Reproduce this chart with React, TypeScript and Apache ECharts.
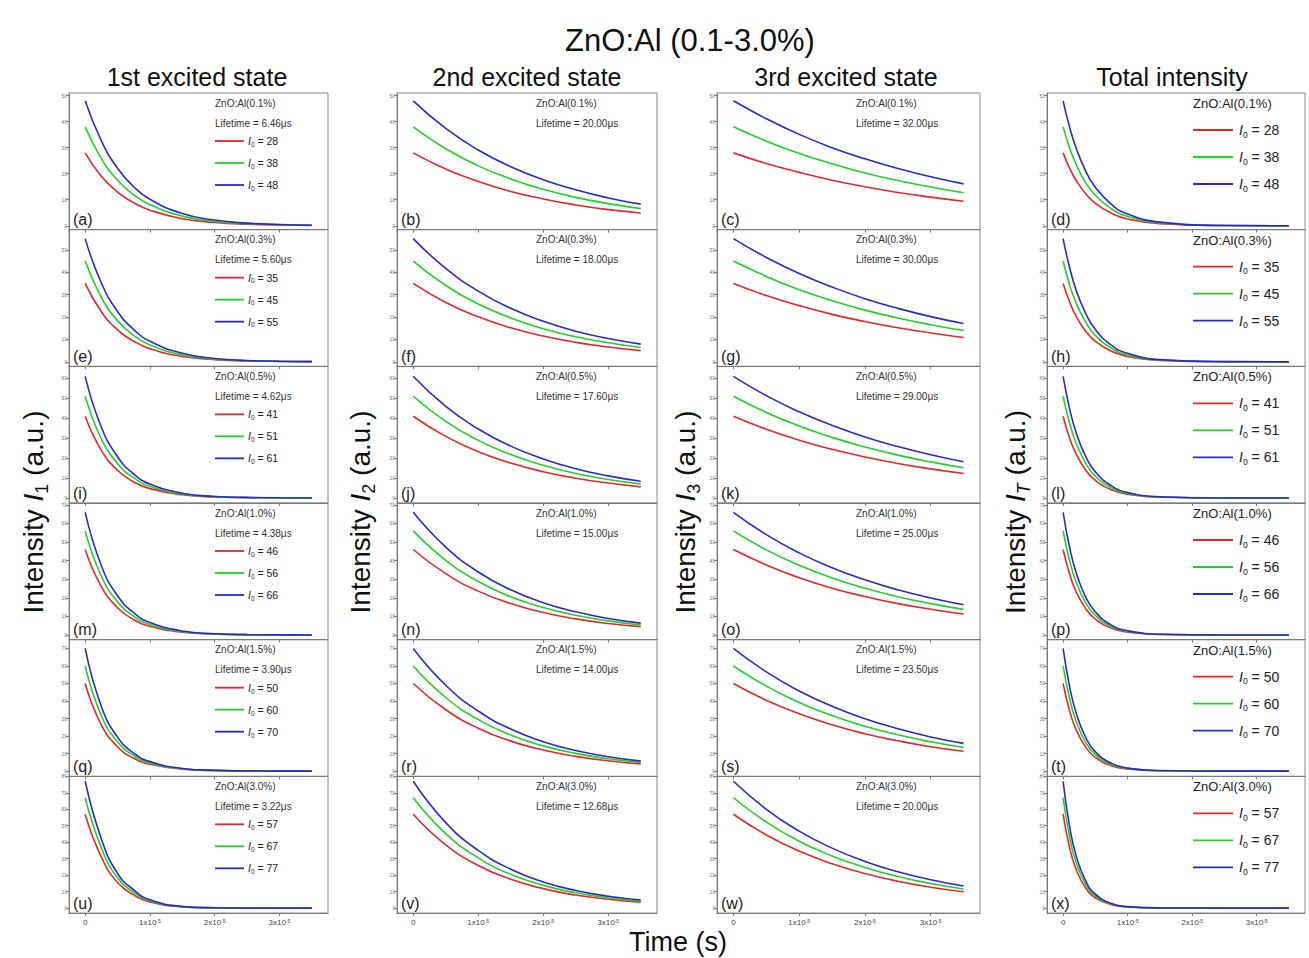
import React, { useEffect, useRef } from "react";
import * as echarts from "echarts";

const CONCENTRATIONS = ["0.1", "0.3", "0.5", "1.0", "1.5", "3.0"];
const I0_VALUES = [
  [28, 38, 48],
  [35, 45, 55],
  [41, 51, 61],
  [46, 56, 66],
  [50, 60, 70],
  [57, 67, 77],
];
const LIFETIME_1 = ["6.46", "5.60", "4.62", "4.38", "3.90", "3.22"];
const LIFETIME_2 = ["20.00", "18.00", "17.60", "15.00", "14.00", "12.68"];
const LIFETIME_3 = ["32.00", "30.00", "29.00", "25.00", "23.50", "20.00"];
const PANEL_LETTERS = "abcdefghijklmnopqrstuvwx".split("");
const COLUMN_TITLES = ["1st excited state", "2nd excited state", "3rd excited state", "Total intensity"];
const Y_SUBSCRIPTS = ["1", "2", "3", "T"];
const Y_MIN = [-1.5, -2, -2.5, -2.5, -3, -3];
const Y_MAX = [51, 59, 66, 71, 75, 80];
const X_TICKS = [0, 1, 2, 3];

// time samples in units of 1e-5 s
const T_MID = [0, 0.25, 0.5, 0.75, 1, 1.5, 2, 2.5, 3, 3.5];
const T_SLOW = [0, 0.5, 1, 1.5, 2, 2.5, 3, 3.5];
const T_FAST = [0, 0.1, 0.2, 0.35, 0.5, 0.75, 1, 1.5, 2.5, 3.5];

const FIRST_STATE = [
  [[28, 19.0, 12.9, 8.8, 6.0, 2.7, 1.3, 0.6, 0.3, 0.1], [38, 25.8, 17.5, 11.9, 8.1, 3.7, 1.7, 0.8, 0.4, 0.2], [48, 32.6, 22.1, 15.0, 10.2, 4.7, 2.2, 1.0, 0.5, 0.2]],
  [[35, 22.4, 14.3, 9.2, 5.9, 2.4, 1.0, 0.4, 0.2, 0.1], [45, 28.8, 18.4, 11.8, 7.5, 3.1, 1.3, 0.5, 0.2, 0.1], [55, 35.2, 22.5, 14.4, 9.2, 3.8, 1.5, 0.6, 0.3, 0.1]],
  [[41, 23.9, 13.9, 8.1, 4.7, 1.6, 0.5, 0.2, 0.1, 0], [51, 29.7, 17.3, 10.1, 5.9, 2.0, 0.7, 0.2, 0.1, 0], [61, 35.5, 20.7, 12.0, 7.0, 2.4, 0.8, 0.3, 0.1, 0]],
  [[46, 26.0, 14.7, 8.3, 4.7, 1.5, 0.5, 0.2, 0.1, 0], [56, 31.6, 17.9, 10.1, 5.7, 1.8, 0.6, 0.2, 0.1, 0], [66, 37.3, 21.1, 11.9, 6.7, 2.2, 0.7, 0.2, 0.1, 0]],
  [[50, 26.4, 13.9, 7.3, 3.9, 1.1, 0.3, 0.1, 0, 0], [60, 31.6, 16.7, 8.8, 4.6, 1.3, 0.4, 0.1, 0, 0], [70, 36.9, 19.4, 10.2, 5.4, 1.5, 0.4, 0.1, 0, 0]],
  [[57, 31, 15.5, 8, 3.7, 0.7, 0.1, 0, 0, 0], [67, 36.5, 18.3, 9.6, 4.4, 0.9, 0.2, 0, 0, 0], [77, 42, 21, 11, 5, 1, 0.2, 0, 0, 0]],
];

const SECOND_STATE = [
  [[28, 21.8, 17.0, 13.2, 10.3, 8.0, 6.2, 4.9], [38, 29.6, 23.0, 18.0, 14.0, 10.9, 8.5, 6.6], [48, 37.4, 29.1, 22.7, 17.7, 13.8, 10.7, 8.3]],
  [[35, 26.5, 20.1, 15.2, 11.5, 8.7, 6.6, 5.0], [45, 34.1, 25.8, 19.6, 14.8, 11.2, 8.5, 6.4], [55, 41.7, 31.6, 23.9, 18.1, 13.7, 10.4, 7.9]],
  [[41, 30.9, 23.2, 17.5, 13.2, 9.9, 7.5, 5.6], [51, 38.4, 28.9, 21.8, 16.4, 12.3, 9.3, 7.0], [61, 45.9, 34.6, 26.0, 19.6, 14.7, 11.1, 8.4]],
  [[46, 33.0, 23.6, 16.9, 12.1, 8.7, 6.2, 4.5], [56, 40.1, 28.8, 20.6, 14.8, 10.6, 7.6, 5.4], [66, 47.3, 33.9, 24.3, 17.4, 12.5, 8.9, 6.4]],
  [[50, 35.0, 24.5, 17.1, 12.0, 8.4, 5.9, 4.1], [60, 42.0, 29.4, 20.6, 14.4, 10.1, 7.0, 4.9], [70, 49.0, 34.3, 24.0, 16.8, 11.7, 8.2, 5.7]],
  [[57, 38.4, 25.9, 17.5, 11.8, 7.9, 5.4, 3.6], [67, 45.2, 30.5, 20.5, 13.8, 9.3, 6.3, 4.2], [77, 51.9, 35.0, 23.6, 15.9, 10.7, 7.2, 4.9]],
];

const THIRD_STATE = [
  [[28, 23.9, 20.5, 17.5, 15.0, 12.8, 11.0, 9.4], [38, 32.5, 27.8, 23.8, 20.3, 17.4, 14.9, 12.7], [48, 41.1, 35.1, 30.0, 25.7, 22.0, 18.8, 16.1]],
  [[35, 29.6, 25.1, 21.2, 18.0, 15.2, 12.9, 10.9], [45, 38.1, 32.2, 27.3, 23.1, 19.6, 16.6, 14.0], [55, 46.6, 39.4, 33.4, 28.2, 23.9, 20.2, 17.1]],
  [[41, 34.5, 29.0, 24.4, 20.6, 17.3, 14.6, 12.3], [51, 42.9, 36.1, 30.4, 25.6, 21.5, 18.1, 15.2], [61, 51.3, 43.2, 36.4, 30.6, 25.8, 21.7, 18.2]],
  [[46, 37.7, 30.8, 25.2, 20.7, 16.9, 13.9, 11.3], [56, 45.8, 37.5, 30.7, 25.2, 20.6, 16.9, 13.8], [66, 54.0, 44.2, 36.2, 29.7, 24.3, 19.9, 16.3]],
  [[50, 40.4, 32.7, 26.4, 21.3, 17.3, 13.9, 11.3], [60, 48.5, 39.2, 31.7, 25.6, 20.7, 16.7, 13.5], [70, 56.6, 45.7, 37.0, 29.9, 24.2, 19.5, 15.8]],
  [[57, 44.4, 34.6, 26.9, 21.0, 16.3, 12.7, 9.9], [67, 52.2, 40.6, 31.7, 24.7, 19.2, 14.9, 11.6], [77, 60.0, 46.7, 36.4, 28.3, 22.1, 17.2, 13.4]],
];

const TOTAL_INTENSITY = [
  [[28, 22.1, 17.5, 12.3, 8.6, 4.8, 2.6, 0.8, 0.1, 0], [38, 30.0, 23.7, 16.6, 11.7, 6.5, 3.6, 1.1, 0.1, 0], [48, 37.9, 30.0, 21.0, 14.8, 8.2, 4.5, 1.4, 0.1, 0]],
  [[35, 26.8, 20.5, 13.7, 9.2, 4.7, 2.4, 0.6, 0, 0], [45, 34.4, 26.4, 17.7, 11.8, 6.1, 3.1, 0.8, 0.1, 0], [55, 42.1, 32.2, 21.6, 14.4, 7.4, 3.8, 1.0, 0.1, 0]],
  [[41, 30.1, 22.2, 14.0, 8.8, 4.1, 1.9, 0.4, 0, 0], [51, 37.5, 27.6, 17.4, 10.9, 5.1, 2.4, 0.5, 0, 0], [61, 44.8, 33.0, 20.8, 13.1, 6.1, 2.8, 0.6, 0, 0]],
  [[46, 32.9, 23.5, 14.2, 8.6, 3.7, 1.6, 0.3, 0, 0], [56, 40.1, 28.7, 17.3, 10.5, 4.5, 2.0, 0.4, 0, 0], [66, 47.2, 33.8, 20.4, 12.4, 5.3, 2.3, 0.4, 0, 0]],
  [[50, 34.5, 23.8, 13.7, 7.8, 3.1, 1.2, 0.2, 0, 0], [60, 41.4, 28.6, 16.4, 9.4, 3.7, 1.5, 0.2, 0, 0], [70, 48.3, 33.4, 19.2, 11.0, 4.4, 1.7, 0.3, 0, 0]],
  [[57, 36.7, 23.7, 12.2, 6.3, 2.1, 0.7, 0.1, 0, 0], [67, 43.2, 27.8, 14.4, 7.4, 2.5, 0.8, 0.1, 0, 0], [77, 49.6, 32.0, 16.5, 8.5, 2.8, 0.9, 0.1, 0, 0]],
];

const FONT = "'Liberation Sans', Arial, sans-serif";
const COLORS = ["#e8262b", "#22d02a", "#2a2acb"];
const COL_LEFT = [69, 397, 717, 1047];
const COL_RIGHT = [328, 657, 980, 1305];
const ROW_TOP0 = 93;
const ROW_H = 136.67;

function i0Text(v: number) {
  return `{i|I}{s|0}{n| = ${v}}`;
}

function richFor(size: number) {
  return {
    i: { fontSize: size, fontStyle: "italic", fontFamily: FONT, fill: "#222", lineHeight: size * 1.3 },
    s: { fontSize: size * 0.62, fontFamily: FONT, fill: "#222", verticalAlign: "bottom", lineHeight: size * 0.62 },
    n: { fontSize: size, fontFamily: FONT, fill: "#222", lineHeight: size * 1.3 },
  };
}

function buildOption() {
  const grids: any[] = [];
  const xAxes: any[] = [];
  const yAxes: any[] = [];
  const series: any[] = [];
  const els: any[] = [];
  const colData = [FIRST_STATE, SECOND_STATE, THIRD_STATE, TOTAL_INTENSITY];
  const colTimes = [T_MID, T_SLOW, T_SLOW, T_FAST];
  const lifetimes = [LIFETIME_1, LIFETIME_2, LIFETIME_3];

  for (let r = 0; r < 6; r++) {
    const top = ROW_TOP0 + r * ROW_H;
    const yTicks: number[] = [];
    for (let v = 0; v <= Y_MAX[r]; v += 10) yTicks.push(v);
    for (let c = 0; c < 4; c++) {
      const idx = r * 4 + c;
      const left = COL_LEFT[c];
      grids.push({
        left,
        top,
        width: COL_RIGHT[c] - left,
        height: ROW_H,
        show: true,
        borderColor: "#8a8a8a",
        borderWidth: 1,
        backgroundColor: "transparent",
      });
      xAxes.push({
        type: "value",
        gridIndex: idx,
        min: -0.25,
        max: 3.75,
        axisLine: { show: true, onZero: false, lineStyle: { color: "#7a7a7a" } },
        axisTick: { show: true, customValues: X_TICKS, length: 3, lineStyle: { color: "#7a7a7a" } },
        axisLabel: {
          show: r === 5,
          customValues: X_TICKS,
          margin: 5,
          color: "#444",
          fontSize: 8,
          fontFamily: FONT,
          formatter: (v: number) => (v === 0 ? "0" : `{b|${v}x10}{sup|-5}`),
          rich: {
            b: { fontSize: 8, fontFamily: FONT, color: "#444" },
            sup: { fontSize: 5, fontFamily: FONT, color: "#444", verticalAlign: "top", lineHeight: 5 },
          },
        },
        splitLine: { show: false },
      });
      yAxes.push({
        type: "value",
        gridIndex: idx,
        min: Y_MIN[r],
        max: Y_MAX[r],
        axisLine: { show: true, onZero: false, lineStyle: { color: "#7a7a7a" } },
        axisTick: { show: true, customValues: yTicks, length: 3, lineStyle: { color: "#7a7a7a" } },
        axisLabel: { show: true, customValues: yTicks, fontSize: 5, color: "#777", margin: 2, fontFamily: FONT },
        splitLine: { show: false },
      });
      const times = colTimes[c];
      const rows = colData[c][r];
      for (let k = 0; k < 3; k++) {
        series.push({
          type: "line",
          name: `${PANEL_LETTERS[idx]}-${I0_VALUES[r][k]}`,
          xAxisIndex: idx,
          yAxisIndex: idx,
          data: times.map((t, j) => [t, rows[k][j]]),
          showSymbol: false,
          smooth: 0.5,
          silent: true,
          lineStyle: { width: 1.6, color: COLORS[k] },
          itemStyle: { color: COLORS[k] },
        });
      }

      // panel letter
      els.push({
        type: "text",
        x: left + 4,
        y: top + ROW_H - 18,
        style: { text: `(${PANEL_LETTERS[idx]})`, fontSize: 16, fontFamily: FONT, fill: "#222" },
        z: 10,
      });

      if (c < 3) {
        const ax = c === 0 ? left + 146 : left + 139;
        els.push({
          type: "text",
          x: ax,
          y: top + 5,
          style: { text: `ZnO:Al(${CONCENTRATIONS[r]}%)`, fontSize: 10, fontFamily: FONT, fill: "#333" },
          z: 10,
        });
        els.push({
          type: "text",
          x: ax,
          y: top + 25,
          style: { text: `Lifetime = ${lifetimes[c][r]}μs`, fontSize: 10, fontFamily: FONT, fill: "#333" },
          z: 10,
        });
        if (c === 0) {
          for (let k = 0; k < 3; k++) {
            const ly = top + 48 + k * 22;
            els.push({
              type: "line",
              shape: { x1: ax, y1: ly, x2: ax + 29, y2: ly },
              style: { stroke: COLORS[k], lineWidth: 1.8 },
              z: 10,
            });
            els.push({
              type: "text",
              x: ax + 33,
              y: ly,
              style: {
                text: i0Text(I0_VALUES[r][k]),
                rich: richFor(10.5),
                verticalAlign: "middle",
              },
              z: 10,
            });
          }
        }
      } else {
        const ax = left + 146;
        els.push({
          type: "text",
          x: ax,
          y: top + 4,
          style: { text: `ZnO:Al(${CONCENTRATIONS[r]}%)`, fontSize: 13, fontFamily: FONT, fill: "#222" },
          z: 10,
        });
        for (let k = 0; k < 3; k++) {
          const ly = top + 37 + k * 27;
          els.push({
            type: "line",
            shape: { x1: ax, y1: ly, x2: ax + 40, y2: ly },
            style: { stroke: COLORS[k], lineWidth: 1.8 },
            z: 10,
          });
          els.push({
            type: "text",
            x: ax + 46,
            y: ly,
            style: {
              text: i0Text(I0_VALUES[r][k]),
              rich: richFor(14),
              verticalAlign: "middle",
            },
            z: 10,
          });
        }
      }
    }
  }

  // Titles
  els.push({
    type: "text",
    x: 690,
    y: 40,
    style: { text: "ZnO:Al (0.1-3.0%)", fontSize: 31, fontFamily: FONT, fill: "#111", align: "center", verticalAlign: "middle" },
  });
  const titleX = [197, 527, 846, 1172];
  COLUMN_TITLES.forEach((t, c) => {
    els.push({
      type: "text",
      x: titleX[c],
      y: 77,
      style: { text: t, fontSize: 25, fontFamily: FONT, fill: "#111", align: "center", verticalAlign: "middle" },
    });
  });
  const yTitleX = [33, 360, 685, 1015];
  Y_SUBSCRIPTS.forEach((s, c) => {
    els.push({
      type: "text",
      x: yTitleX[c],
      y: 512,
      rotation: Math.PI / 2,
      style: {
        text: `{n|Intensity }{i|I}{s|${s}}{n| (a.u.)}`,
        align: "center",
        verticalAlign: "middle",
        rich: {
          n: { fontSize: 28, fontFamily: FONT, fill: "#111", lineHeight: 36 },
          i: { fontSize: 28, fontFamily: FONT, fontStyle: "italic", fill: "#111", lineHeight: 36 },
          s: { fontSize: 18, fontFamily: FONT, fontStyle: s === "T" ? "italic" : "normal", fill: "#111", verticalAlign: "bottom", lineHeight: 18 },
        },
      },
    });
  });
  els.push({
    type: "text",
    x: 678,
    y: 942,
    style: { text: "Time (s)", fontSize: 27, fontFamily: FONT, fill: "#111", align: "center", verticalAlign: "middle" },
  });

  return {
    animation: false,
    backgroundColor: "#ffffff",
    grid: grids,
    xAxis: xAxes,
    yAxis: yAxes,
    series,
    graphic: { elements: els },
  };
}

export default function App() {
  const ref = useRef<HTMLDivElement>(null);
  useEffect(() => {
    if (!ref.current) return;
    const chart = echarts.init(ref.current, null, { renderer: "svg" });
    chart.setOption(buildOption() as any);
    return () => chart.dispose();
  }, []);
  return (
    <div
      ref={ref}
      style={{ position: "absolute", left: 0, top: 0, width: 1309, height: 958, background: "#fff" }}
    />
  );
}
